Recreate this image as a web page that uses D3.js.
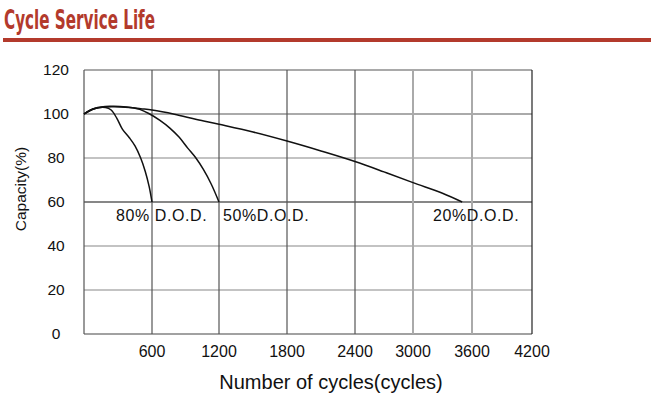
<!DOCTYPE html>
<html><head><meta charset="utf-8">
<script src="https://cdn.jsdelivr.net/npm/d3@7"></script>
<style>
html,body{margin:0;padding:0;background:#fff;}
svg{display:block;}
</style></head>
<body>
<script>
// ---- data ----
const xTicks = [600, 1200, 1800, 2400, 3000, 3600, 4200];
const yTicks = [0, 20, 40, 60, 80, 100, 120];
const seriesNames = ["80% D.O.D.", "50%D.O.D.", "20%D.O.D."];
const dod80 = [[0,100],[80,102.3],[190,103],[240,101.8],[290,98],[340,93],[400,89.2],[450,85.5],[500,80],[540,74],[575,67],[600,60]];
const dod50 = [[0,100],[97,102.6],[228,103.5],[375,103.2],[492,102.1],[580,100],[668,97.2],[760,93.6],[844,89.4],[920,84.5],[990,80.2],[1060,74.8],[1130,68.2],[1200,60]];
const dod20 = [[0,100],[100,102.5],[250,103.3],[400,103],[500,102.4],[600,101.8],[800,99.9],[1000,97.5],[1200,95.3],[1500,91.8],[1800,87.7],[2100,83.2],[2400,78.4],[2700,73.7],[3000,68.8],[3300,64],[3500,60]];
const labelAt = [[282,51.4],[1235,51.4],[3203,51.4]];

// ---- layout ----
const W = 667, H = 402;
const svg = d3.select("body").append("svg").attr("width", W).attr("height", H);

// title
svg.append("text").attr("x", 4).attr("y", 29)
  .attr("font-family", "'Liberation Sans Narrow','DejaVu Sans Condensed',sans-serif")
  .attr("font-weight", "bold").attr("font-size", 26).attr("fill", "#b33a2c")
  .attr("textLength", 151).attr("lengthAdjust", "spacingAndGlyphs")
  .text("Cycle Service Life");
svg.append("rect").attr("x", 3).attr("y", 38).attr("width", 648).attr("height", 4).attr("fill", "#b33a2c");

const x = d3.scaleLinear()
  .domain([0, 600, 1200, 1800, 2400, 3000, 3600, 4200])
  .range([84, 152, 219, 287, 355, 413, 472, 532]);
const y = d3.scaleLinear().domain([0, 120]).range([334, 70]);

const g = svg.append("g");

// horizontal grid
const hStyle = v => v === 60 ? ["#111", 1.2] : v === 100 ? ["#aaa", 2] : v === 120 ? ["#555", 1.2] : v === 0 ? ["#444", 1.2] : ["#888", 1.2];
g.selectAll("line.h").data(yTicks).join("line").attr("class", "h")
  .attr("x1", x(0)).attr("x2", x(4200))
  .attr("y1", d => y(d)).attr("y2", d => y(d))
  .attr("stroke", d => hStyle(d)[0]).attr("stroke-width", d => hStyle(d)[1]);

// vertical grid
const vStyle = v => (v === 3000 || v === 3600) ? ["#aaa", 2] : v === 4200 ? ["#222", 1.2] : ["#555", 1.2];
g.selectAll("line.v").data([0].concat(xTicks)).join("line").attr("class", "v")
  .attr("y1", y(0)).attr("y2", y(120))
  .attr("x1", d => x(d)).attr("x2", d => x(d))
  .attr("stroke", d => d === 0 ? "#555" : vStyle(d)[0])
  .attr("stroke-width", d => d === 0 ? 1.2 : vStyle(d)[1]);

// tick labels
const font = "Arial,'Liberation Sans',sans-serif";
svg.selectAll("text.yt").data(yTicks).join("text").attr("class", "yt")
  .attr("x", 56).attr("y", d => y(d) + 5).attr("text-anchor", "middle")
  .attr("font-family", font).attr("font-size", 15.5).attr("fill", "#111")
  .text(d => d);
svg.selectAll("text.xt").data(xTicks).join("text").attr("class", "xt")
  .attr("x", d => x(d)).attr("y", 357).attr("text-anchor", "middle")
  .attr("font-family", font).attr("font-size", 16).attr("fill", "#111")
  .text(d => d);

// axis titles
svg.append("text").attr("x", 331).attr("y", 389).attr("text-anchor", "middle")
  .attr("font-family", font).attr("font-size", 20).attr("fill", "#111")
  .text("Number of cycles(cycles)");
svg.append("text").attr("transform", "translate(26,189) rotate(-90)").attr("text-anchor", "middle")
  .attr("font-family", font).attr("font-size", 15.5).attr("fill", "#111")
  .text("Capacity(%)");

// curves
const line = d3.line().x(d => x(d[0])).y(d => y(d[1])).curve(d3.curveCatmullRom.alpha(0.5));
g.selectAll("path.curve").data([dod80, dod50, dod20]).join("path").attr("class", "curve")
  .attr("d", line).attr("fill", "none").attr("stroke", "#111").attr("stroke-width", 1.5);

// labels
svg.selectAll("text.lab").data(seriesNames).join("text").attr("class", "lab")
  .attr("x", (d, i) => x(labelAt[i][0])).attr("y", (d, i) => y(labelAt[i][1]))
  .attr("font-family", font).attr("font-size", 16).attr("letter-spacing", 0.6).attr("fill", "#111")
  .text(d => d);
</script>
</body></html>
